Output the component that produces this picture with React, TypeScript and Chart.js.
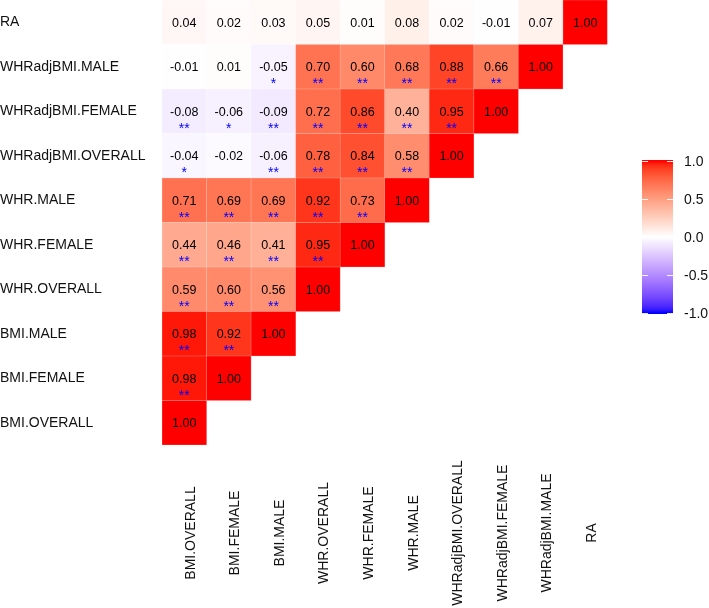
import React, { useEffect, useRef } from "react";
import { Chart, registerables } from "chart.js";

Chart.register(...registerables);

// Variables, bottom row / left column first
const variables: string[] = [
  "BMI.OVERALL",
  "BMI.FEMALE",
  "BMI.MALE",
  "WHR.OVERALL",
  "WHR.FEMALE",
  "WHR.MALE",
  "WHRadjBMI.OVERALL",
  "WHRadjBMI.FEMALE",
  "WHRadjBMI.MALE",
  "RA",
];

// Correlations for each row variable against columns 0..row
const rowBMIOverall = [1.0];
const rowBMIFemale = [0.98, 1.0];
const rowBMIMale = [0.98, 0.92, 1.0];
const rowWHROverall = [0.59, 0.6, 0.56, 1.0];
const rowWHRFemale = [0.44, 0.46, 0.41, 0.95, 1.0];
const rowWHRMale = [0.71, 0.69, 0.69, 0.92, 0.73, 1.0];
const rowAdjOverall = [-0.04, -0.02, -0.06, 0.78, 0.84, 0.58, 1.0];
const rowAdjFemale = [-0.08, -0.06, -0.09, 0.72, 0.86, 0.4, 0.95, 1.0];
const rowAdjMale = [-0.01, 0.01, -0.05, 0.7, 0.6, 0.68, 0.88, 0.66, 1.0];
const rowRA = [0.04, 0.02, 0.03, 0.05, 0.01, 0.08, 0.02, -0.01, 0.07, 1.0];

const corrRows: number[][] = [
  rowBMIOverall,
  rowBMIFemale,
  rowBMIMale,
  rowWHROverall,
  rowWHRFemale,
  rowWHRMale,
  rowAdjOverall,
  rowAdjFemale,
  rowAdjMale,
  rowRA,
];

// Significance marks
const sigRows: string[][] = [
  [""],
  ["**", ""],
  ["**", "**", ""],
  ["**", "**", "**", ""],
  ["**", "**", "**", "**", ""],
  ["**", "**", "**", "**", "**", ""],
  ["*", "", "**", "**", "**", "**", ""],
  ["**", "*", "**", "**", "**", "**", "**", ""],
  ["", "", "*", "**", "**", "**", "**", "**", ""],
  ["", "", "", "", "", "", "", "", "", ""],
];

const legendTicks: number[] = [1.0, 0.5, 0.0, -0.5, -1.0];

const FONT = "'Liberation Sans', Arial, sans-serif";

// ---- colour helpers (Lab interpolation like ggplot's gradient2) ----
const WHITE_LAB = [100, 0, 0];
const RED_LAB = [53.2408, 80.0925, 67.2032];
const BLUE_LAB = [32.297, 79.1875, -107.8602];

function labToRgb(L: number, a: number, b: number): number[] {
  const fy = (L + 16) / 116;
  const fx = fy + a / 500;
  const fz = fy - b / 200;
  const finv = (t: number) => (t * t * t > 0.008856 ? t * t * t : (t - 16 / 116) / 7.787);
  const X = 0.95047 * finv(fx);
  const Y = 1.0 * finv(fy);
  const Z = 1.08883 * finv(fz);
  const r = 3.2404542 * X - 1.5371385 * Y - 0.4985314 * Z;
  const g = -0.969266 * X + 1.8760108 * Y + 0.041556 * Z;
  const bb = 0.0556434 * X - 0.2040259 * Y + 1.0572252 * Z;
  const gam = (c: number) => {
    const v = c <= 0.0031308 ? 12.92 * c : 1.055 * Math.pow(c, 1 / 2.4) - 0.055;
    return Math.round(Math.max(0, Math.min(1, v)) * 255);
  };
  return [gam(r), gam(g), gam(bb)];
}

function corrRgb(v: number): number[] {
  const end = v >= 0 ? RED_LAB : BLUE_LAB;
  const t = Math.min(1, Math.abs(v));
  return labToRgb(
    WHITE_LAB[0] + (end[0] - WHITE_LAB[0]) * t,
    WHITE_LAB[1] + (end[1] - WHITE_LAB[1]) * t,
    WHITE_LAB[2] + (end[2] - WHITE_LAB[2]) * t
  );
}

function corrColor(v: number): string {
  const c = corrRgb(v);
  return `rgb(${c[0]},${c[1]},${c[2]})`;
}

function corrBorder(v: number): string {
  const c = corrRgb(v);
  const m = (x: number) => Math.round(x * 0.6 + 255 * 0.4);
  return `rgb(${m(c[0])},${m(c[1])},${m(c[2])})`;
}

const overlayPlugin = {
  id: "corrOverlay",
  afterDatasetsDraw(chart: any) {
    const ctx = chart.ctx as CanvasRenderingContext2D;
    const xs = chart.scales.x;
    const ys = chart.scales.y;
    ctx.save();
    // cell values and stars
    corrRows.forEach((row, i) => {
      row.forEach((v, j) => {
        const cx = xs.getPixelForValue(j);
        const cy = ys.getPixelForValue(i + 0.5);
        ctx.fillStyle = "#000";
        ctx.font = `12.5px ${FONT}`;
        ctx.textAlign = "center";
        ctx.textBaseline = "middle";
        ctx.fillText(v.toFixed(2), cx, cy + 1);
        const s = sigRows[i][j];
        if (s) {
          ctx.fillStyle = "#0000ff";
          ctx.font = `14px ${FONT}`;
          ctx.textBaseline = "alphabetic";
          ctx.fillText(s, cx, cy + 21.5);
        }
      });
    });
    // x labels (rotated, centred)
    ctx.fillStyle = "#111";
    ctx.font = `14px ${FONT}`;
    variables.forEach((name, j) => {
      const cx = xs.getPixelForValue(j);
      ctx.save();
      ctx.translate(cx + 10.5, 533);
      ctx.rotate(-Math.PI / 2);
      ctx.textAlign = "center";
      ctx.textBaseline = "alphabetic";
      ctx.fillText(name, 0, 0);
      ctx.restore();
    });
    // colour bar legend
    const bx = 642;
    const bw = 31;
    const yTop = 161;
    const yBot = 313;
    const vToY = (v: number) => yTop + ((1 - v) / 2) * (yBot - yTop);
    const grad = ctx.createLinearGradient(0, yTop, 0, yBot);
    for (let k = 0; k <= 40; k++) {
      const v = 1 - k / 20;
      grad.addColorStop(k / 40, corrColor(v));
    }
    ctx.fillStyle = grad;
    ctx.fillRect(bx, yTop - 1, bw, yBot - yTop + 2);
    ctx.strokeStyle = "rgba(255,255,255,0.9)";
    ctx.lineWidth = 1;
    legendTicks.forEach((t) => {
      const y = Math.round(vToY(t)) + 0.5;
      ctx.beginPath();
      ctx.moveTo(bx, y);
      ctx.lineTo(bx + 6, y);
      ctx.moveTo(bx + bw - 6, y);
      ctx.lineTo(bx + bw, y);
      ctx.stroke();
    });
    ctx.fillStyle = "#111";
    ctx.font = `14px ${FONT}`;
    ctx.textAlign = "left";
    ctx.textBaseline = "middle";
    legendTicks.forEach((t) => {
      ctx.fillText(t.toFixed(1), 684, vToY(t) + 1);
    });
    ctx.restore();
  },
};

export default function App() {
  const canvasRef = useRef<HTMLCanvasElement | null>(null);

  useEffect(() => {
    if (!canvasRef.current) return;
    const datasets = corrRows.map((row, i) => ({
      label: variables[i],
      data: variables.map((_, j) => (j < row.length ? [i, i + 1] : null)),
      backgroundColor: variables.map((_, j) => (j < row.length ? corrColor(row[j]) : "rgba(0,0,0,0)")),
      borderColor: variables.map((_, j) => (j < row.length ? corrBorder(row[j]) : "rgba(0,0,0,0)")),
      borderWidth: 0.6,
      borderSkipped: false,
      grouped: false,
      barPercentage: 1,
      categoryPercentage: 1,
    }));
    const chart = new Chart(canvasRef.current, {
      type: "bar",
      data: { labels: variables, datasets: datasets as any },
      options: {
        responsive: false,
        animation: false,
        events: [],
        layout: { padding: { left: 0, top: 0, right: 101.5, bottom: 163 } },
        plugins: { legend: { display: false }, tooltip: { enabled: false } },
        scales: {
          x: { type: "category", display: false, offset: true },
          y: {
            type: "linear",
            min: 0,
            max: 10,
            grid: { display: false, drawTicks: false },
            border: { display: false },
            afterBuildTicks: (axis: any) => {
              axis.ticks = variables.map((_, i) => ({ value: i + 0.5 }));
            },
            afterFit: (axis: any) => {
              axis.width = 162;
              axis.paddingTop = 0;
              axis.paddingBottom = 0;
            },
            ticks: {
              autoSkip: false,
              crossAlign: "far",
              padding: 0,
              color: "#111",
              font: { family: FONT, size: 14 },
              callback: (v: any) => variables[Math.floor(Number(v))],
            },
          },
        },
      },
      plugins: [overlayPlugin],
    } as any);
    return () => chart.destroy();
  }, []);

  return (
    <div style={{ position: "absolute", left: 0, top: 0, width: 709, height: 608, background: "#fff" }}>
      <canvas ref={canvasRef} width={709} height={608} style={{ display: "block" }} />
    </div>
  );
}
